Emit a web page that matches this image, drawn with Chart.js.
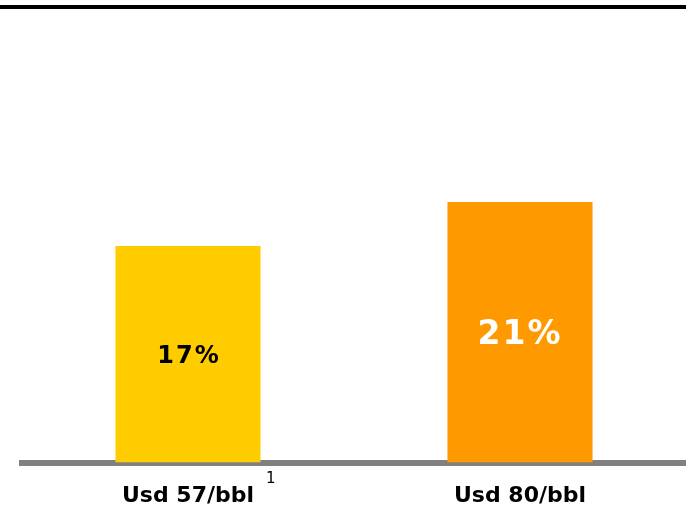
<!DOCTYPE html>
<html>
<head>
<meta charset="utf-8">
<script src="https://cdn.jsdelivr.net/npm/chart.js@4/dist/chart.umd.min.js"></script>
<style>
  html, body { margin: 0; padding: 0; background: #fff; }
  #wrap { position: relative; width: 686px; height: 507px; overflow: hidden; }
  #rule { position: absolute; left: 0; top: 5px; width: 686px; height: 4px; background: #000; z-index: 1; }
  #myChart { position: absolute; left: 0; top: 0; }
</style>
</head>
<body>
<div id="wrap">
  <div id="rule"></div>
  <canvas id="myChart" width="686" height="529"></canvas>
</div>
<script>
(()=>{
    const categories = ['Usd 57/bbl', 'Usd 80/bbl'];
    const values = [17, 21];
    const valueLabels = ['17%', '21%'];
    const footnotes = ['1', ''];
    const barColors = ['#FFCC00', '#FF9900'];

    const ctx = document.getElementById('myChart');

    // percentage text in the middle of each bar
    const barLabels = {
        id: 'barLabels',
        afterDatasetsDraw(chart) {
            const c = chart.ctx;
            const meta = chart.getDatasetMeta(0);
            meta.data.forEach((bar, i) => {
                const mid = (bar.y + bar.base) / 2;
                c.save();
                c.textAlign = 'center';
                c.textBaseline = 'middle';
                c.letterSpacing = '2px';
                if (i === 0) {
                    c.font = 'bold 24px "DejaVu Sans"';
                    c.fillStyle = '#000';
                    c.fillText(valueLabels[i], bar.x + 1, mid + 2);
                } else {
                    c.font = 'bold 33px "DejaVu Sans"';
                    c.fillStyle = '#fff';
                    c.fillText(valueLabels[i], bar.x, mid + 3);
                }
                c.restore();
            });
        }
    };

    // footnote marks next to the category labels
    const footnoteMarks = {
        id: 'footnoteMarks',
        afterDraw(chart) {
            const c = chart.ctx;
            const x = chart.scales.x;
            c.save();
            c.font = '15px "DejaVu Sans"';
            c.fillStyle = '#000';
            c.textAlign = 'left';
            c.textBaseline = 'middle';
            footnotes.forEach((f, i) => {
                if (!f) return;
                c.fillText(f, x.getPixelForValue(i) + 78, 479);
            });
            c.restore();
        }
    };

    new Chart(ctx, {
        type: 'bar',
        data: {
            labels: categories,
            datasets: [{
                data: values,
                backgroundColor: barColors,
                borderWidth: 0,
                base: -2.7,
                categoryPercentage: 1,
                barPercentage: 0.437
            }]
        },
        options: {
            responsive: false,
            animation: false,
            layout: {
                padding: { left: 22, right: 0, top: 48, bottom: 0 }
            },
            plugins: {
                legend: { display: false },
                tooltip: { enabled: false }
            },
            scales: {
                y: {
                    display: false,
                    min: -2.7,
                    max: 35
                },
                x: {
                    z: 1,
                    grid: { display: false, drawTicks: false },
                    border: { display: true, color: '#808080', width: 6 },
                    ticks: {
                        color: '#000',
                        padding: 20,
                        font: { family: 'DejaVu Sans', size: 22, weight: 'bold' }
                    }
                }
            }
        },
        plugins: [barLabels, footnoteMarks]
    });
})()
</script>
</body>
</html>
